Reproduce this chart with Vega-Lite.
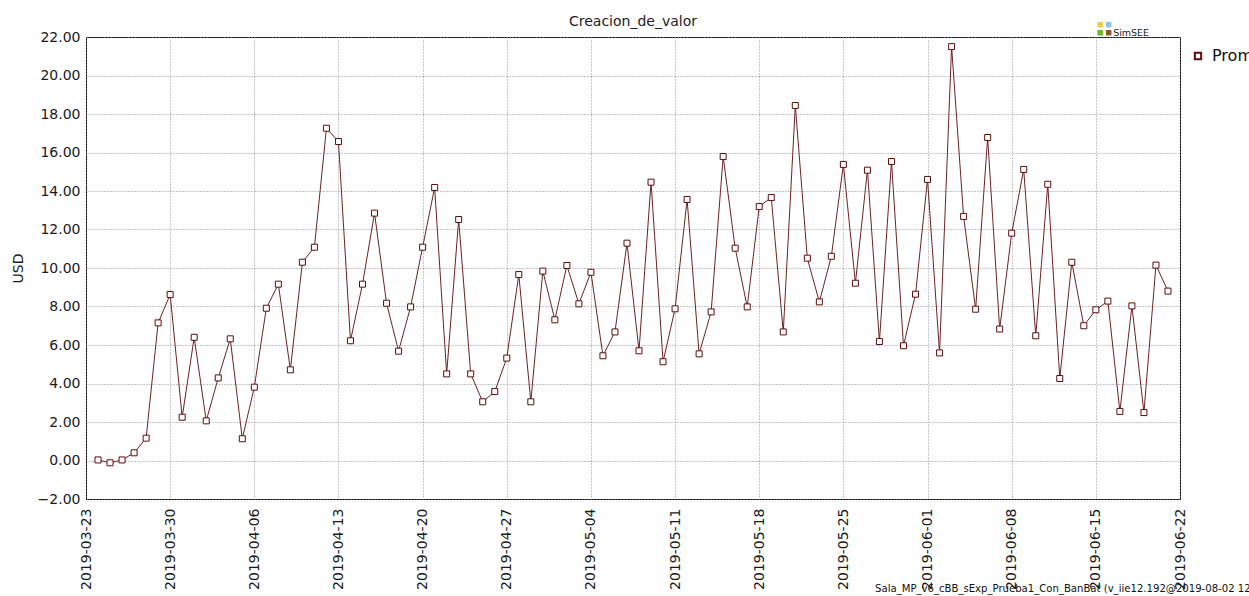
{
  "$schema": "https://vega.github.io/schema/vega-lite/v6.json",
  "autosize": {"type": "none"},
  "width": 1094,
  "height": 462,
  "padding": {"left": 86, "top": 37, "right": 69, "bottom": 97},
  "background": "white",
  "title": {"text": "Creacion_de_valor", "fontSize": 14, "font": "DejaVu Sans", "fontWeight": "normal", "color": "#222222", "anchor": "middle", "frame": "group", "offset": -7},
  "config": {
    "view": {"stroke": "#000000", "strokeWidth": 1},
    "font": "DejaVu Sans",
    "axis": {"gridColor": "#8c8c8c", "gridDash": [1, 2], "gridWidth": 1, "gridOpacity": 1, "ticks": false, "domain": false, "labelFontSize": 14, "labelColor": "#1a1a1a", "labelFont": "DejaVu Sans", "labelOverlap": false}
  },
  "data": {"values": [
    {"fecha": "2019-03-24", "valor": 0.03}, {"fecha": "2019-03-25", "valor": -0.12}, {"fecha": "2019-03-26", "valor": 0.03}, {"fecha": "2019-03-27", "valor": 0.4}, {"fecha": "2019-03-28", "valor": 1.16}, {"fecha": "2019-03-29", "valor": 7.15}, {"fecha": "2019-03-30", "valor": 8.62}, {"fecha": "2019-03-31", "valor": 2.25},
    {"fecha": "2019-04-01", "valor": 6.4}, {"fecha": "2019-04-02", "valor": 2.06}, {"fecha": "2019-04-03", "valor": 4.29}, {"fecha": "2019-04-04", "valor": 6.32}, {"fecha": "2019-04-05", "valor": 1.13}, {"fecha": "2019-04-06", "valor": 3.81}, {"fecha": "2019-04-07", "valor": 7.91}, {"fecha": "2019-04-08", "valor": 9.16}, {"fecha": "2019-04-09", "valor": 4.71}, {"fecha": "2019-04-10", "valor": 10.3},
    {"fecha": "2019-04-11", "valor": 11.08}, {"fecha": "2019-04-12", "valor": 17.26}, {"fecha": "2019-04-13", "valor": 16.57}, {"fecha": "2019-04-14", "valor": 6.22}, {"fecha": "2019-04-15", "valor": 9.16}, {"fecha": "2019-04-16", "valor": 12.85}, {"fecha": "2019-04-17", "valor": 8.17}, {"fecha": "2019-04-18", "valor": 5.68}, {"fecha": "2019-04-19", "valor": 7.98}, {"fecha": "2019-04-20", "valor": 11.08},
    {"fecha": "2019-04-21", "valor": 14.18}, {"fecha": "2019-04-22", "valor": 4.5}, {"fecha": "2019-04-23", "valor": 12.52}, {"fecha": "2019-04-24", "valor": 4.5}, {"fecha": "2019-04-25", "valor": 3.05}, {"fecha": "2019-04-26", "valor": 3.58}, {"fecha": "2019-04-27", "valor": 5.32}, {"fecha": "2019-04-28", "valor": 9.66}, {"fecha": "2019-04-29", "valor": 3.05}, {"fecha": "2019-04-30", "valor": 9.84},
    {"fecha": "2019-05-01", "valor": 7.31}, {"fecha": "2019-05-02", "valor": 10.13}, {"fecha": "2019-05-03", "valor": 8.14}, {"fecha": "2019-05-04", "valor": 9.78}, {"fecha": "2019-05-05", "valor": 5.44}, {"fecha": "2019-05-06", "valor": 6.68}, {"fecha": "2019-05-07", "valor": 11.29}, {"fecha": "2019-05-08", "valor": 5.7}, {"fecha": "2019-05-09", "valor": 14.46}, {"fecha": "2019-05-10", "valor": 5.13},
    {"fecha": "2019-05-11", "valor": 7.88}, {"fecha": "2019-05-12", "valor": 13.56}, {"fecha": "2019-05-13", "valor": 5.54}, {"fecha": "2019-05-14", "valor": 7.72}, {"fecha": "2019-05-15", "valor": 15.79}, {"fecha": "2019-05-16", "valor": 11.03}, {"fecha": "2019-05-17", "valor": 7.98}, {"fecha": "2019-05-18", "valor": 13.19}, {"fecha": "2019-05-19", "valor": 13.66}, {"fecha": "2019-05-20", "valor": 6.68},
    {"fecha": "2019-05-21", "valor": 18.44}, {"fecha": "2019-05-22", "valor": 10.51}, {"fecha": "2019-05-23", "valor": 8.24}, {"fecha": "2019-05-24", "valor": 10.61}, {"fecha": "2019-05-25", "valor": 15.38}, {"fecha": "2019-05-26", "valor": 9.21}, {"fecha": "2019-05-27", "valor": 15.08}, {"fecha": "2019-05-28", "valor": 6.18}, {"fecha": "2019-05-29", "valor": 15.53}, {"fecha": "2019-05-30", "valor": 5.96},
    {"fecha": "2019-05-31", "valor": 8.64}, {"fecha": "2019-06-01", "valor": 14.6}, {"fecha": "2019-06-02", "valor": 5.59}, {"fecha": "2019-06-03", "valor": 21.5}, {"fecha": "2019-06-04", "valor": 12.68}, {"fecha": "2019-06-05", "valor": 7.86}, {"fecha": "2019-06-06", "valor": 16.78}, {"fecha": "2019-06-07", "valor": 6.83}, {"fecha": "2019-06-08", "valor": 11.81}, {"fecha": "2019-06-09", "valor": 15.12},
    {"fecha": "2019-06-10", "valor": 6.48}, {"fecha": "2019-06-11", "valor": 14.35}, {"fecha": "2019-06-12", "valor": 4.26}, {"fecha": "2019-06-13", "valor": 10.3}, {"fecha": "2019-06-14", "valor": 7.0}, {"fecha": "2019-06-15", "valor": 7.83}, {"fecha": "2019-06-16", "valor": 8.28}, {"fecha": "2019-06-17", "valor": 2.55}, {"fecha": "2019-06-18", "valor": 8.03}, {"fecha": "2019-06-19", "valor": 2.49},
    {"fecha": "2019-06-20", "valor": 10.15}, {"fecha": "2019-06-21", "valor": 8.8}
  ]},
  "layer": [
    {
      "mark": {"type": "line", "color": "#6a2222", "strokeWidth": 1},
      "encoding": {
        "x": {"field": "fecha", "type": "temporal",
          "scale": {"type": "utc", "domain": [{"year": 2019, "month": 3, "date": 23, "utc": true}, {"year": 2019, "month": 6, "date": 22, "utc": true}]},
          "axis": {"title": null, "format": "%Y-%m-%d", "labelAngle": -90, "labelPadding": 9, "labelFlush": false, "labelOverlap": false, "grid": true, "tickCount": 40,
            "values": [
              {"year": 2019, "month": 3, "date": 23, "utc": true}, {"year": 2019, "month": 3, "date": 30, "utc": true}, {"year": 2019, "month": 4, "date": 6, "utc": true}, {"year": 2019, "month": 4, "date": 13, "utc": true}, {"year": 2019, "month": 4, "date": 20, "utc": true}, {"year": 2019, "month": 4, "date": 27, "utc": true}, {"year": 2019, "month": 5, "date": 4, "utc": true}, {"year": 2019, "month": 5, "date": 11, "utc": true}, {"year": 2019, "month": 5, "date": 18, "utc": true}, {"year": 2019, "month": 5, "date": 25, "utc": true}, {"year": 2019, "month": 6, "date": 1, "utc": true}, {"year": 2019, "month": 6, "date": 8, "utc": true}, {"year": 2019, "month": 6, "date": 15, "utc": true}, {"year": 2019, "month": 6, "date": 22, "utc": true}
            ]}},
        "y": {"field": "valor", "type": "quantitative",
          "scale": {"domain": [-2, 22], "nice": false, "zero": false},
          "axis": {"title": "USD", "titleFontSize": 14, "titleFontWeight": "normal", "titleColor": "#1a1a1a", "titlePadding": 12, "format": ".2f", "labelPadding": 6, "labelOverlap": false, "grid": true, "tickCount": 30,
            "values": [-2, 0, 2, 4, 6, 8, 10, 12, 14, 16, 18, 20, 22]}}
      }
    },
    {
      "mark": {"type": "point", "shape": "square", "filled": false, "fill": "white", "fillOpacity": 1, "opacity": 1, "size": 36, "strokeWidth": 1},
      "encoding": {
        "x": {"field": "fecha", "type": "temporal"},
        "y": {"field": "valor", "type": "quantitative"},
        "color": {"datum": "Prom", "scale": {"range": ["#5e0c0c"]},
          "legend": {"orient": "none", "legendX": 1104, "legendY": 11, "title": null, "symbolType": "square", "symbolSize": 40, "symbolStrokeWidth": 2, "symbolFillColor": "white", "labelFontSize": 16, "labelColor": "#111111", "labelFont": "DejaVu Sans", "padding": 0, "labelOffset": 6}}
      }
    },
    {
      "data": {"values": [{}]},
      "mark": {"type": "text", "text": "SimSEE", "fontSize": 9.5, "align": "left", "baseline": "alphabetic", "color": "#222222", "dy": -1},
      "encoding": {
        "x": {"datum": {"year": 2019, "month": 6, "date": 16, "hours": 10, "minutes": 30, "utc": true}, "type": "temporal"},
        "y": {"datum": 22, "type": "quantitative"}
      }
    },
    {
      "data": {"values": [{}]},
      "mark": {"type": "square", "size": 30, "color": "#e6d03c", "opacity": 1},
      "encoding": {
        "x": {"datum": {"year": 2019, "month": 6, "date": 15, "hours": 8, "minutes": 38, "utc": true}, "type": "temporal"},
        "y": {"datum": 22.64, "type": "quantitative"}
      }
    },
    {
      "data": {"values": [{}]},
      "mark": {"type": "square", "size": 30, "color": "#8cc4ec", "opacity": 1},
      "encoding": {
        "x": {"datum": {"year": 2019, "month": 6, "date": 16, "hours": 1, "minutes": 40, "utc": true}, "type": "temporal"},
        "y": {"datum": 22.64, "type": "quantitative"}
      }
    },
    {
      "data": {"values": [{}]},
      "mark": {"type": "square", "size": 30, "color": "#6cb82c", "opacity": 1},
      "encoding": {
        "x": {"datum": {"year": 2019, "month": 6, "date": 15, "hours": 8, "minutes": 38, "utc": true}, "type": "temporal"},
        "y": {"datum": 22.22, "type": "quantitative"}
      }
    },
    {
      "data": {"values": [{}]},
      "mark": {"type": "square", "size": 30, "color": "#8b5a1c", "opacity": 1},
      "encoding": {
        "x": {"datum": {"year": 2019, "month": 6, "date": 16, "hours": 1, "minutes": 40, "utc": true}, "type": "temporal"},
        "y": {"datum": 22.22, "type": "quantitative"}
      }
    },
    {
      "data": {"values": [{}]},
      "mark": {"type": "text", "text": "Sala_MP_v6_cBB_sExp_Prueba1_Con_BanBat (v_iie12.192@2019-08-02 12:2", "fontSize": 10.1, "align": "left", "baseline": "alphabetic", "color": "#111111", "dy": 93},
      "encoding": {
        "x": {"datum": {"year": 2019, "month": 5, "date": 27, "hours": 15, "minutes": 20, "utc": true}, "type": "temporal"},
        "y": {"datum": -2, "type": "quantitative"}
      }
    }
  ]
}
